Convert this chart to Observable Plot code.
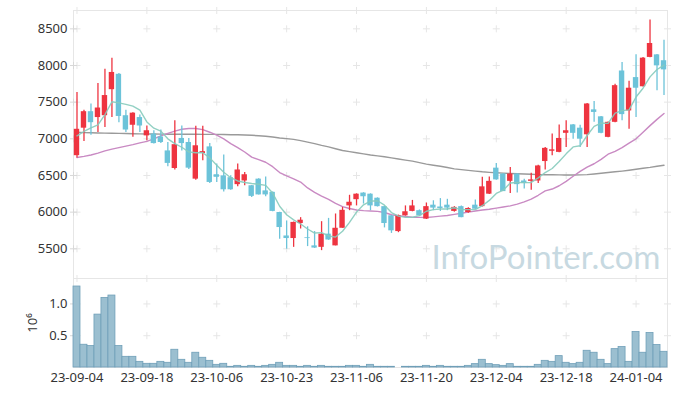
<!DOCTYPE html>
<html><head><meta charset="utf-8">
<script src="https://cdn.jsdelivr.net/npm/d3@7"></script>
<script src="https://cdn.jsdelivr.net/npm/@observablehq/plot@0.6"></script>
<style>
body{margin:0;background:#fff;}
#chart{width:677px;height:396px;position:relative;background:#fff;}
#chart svg{display:block;}
</style></head><body><div id="chart"></div>
<script>
const dates = ["23-09-04","23-09-05","23-09-06","23-09-07","23-09-08","23-09-11","23-09-12","23-09-13","23-09-14","23-09-15",
"23-09-18","23-09-19","23-09-20","23-09-21","23-09-22","23-09-25","23-09-26","23-09-27","23-10-04","23-10-05",
"23-10-06","23-10-10","23-10-11","23-10-12","23-10-13","23-10-16","23-10-17","23-10-18","23-10-19","23-10-20",
"23-10-23","23-10-24","23-10-25","23-10-26","23-10-27","23-10-30","23-10-31","23-11-01","23-11-02","23-11-03",
"23-11-06","23-11-07","23-11-08","23-11-09","23-11-10","23-11-13","23-11-14","23-11-15","23-11-16","23-11-17",
"23-11-20","23-11-21","23-11-22","23-11-23","23-11-24","23-11-27","23-11-28","23-11-29","23-11-30","23-12-01",
"23-12-04","23-12-05","23-12-06","23-12-07","23-12-08","23-12-11","23-12-12","23-12-13","23-12-14","23-12-15",
"23-12-18","23-12-19","23-12-20","23-12-21","23-12-22","23-12-26","23-12-27","23-12-28","24-01-02","24-01-03",
"24-01-04","24-01-05","24-01-08","24-01-09","24-01-10"];

const open = [6770,7145,7370,7290,7315,7670,7880,7315,7185,7290,
7040,7065,7025,6835,6595,7005,6950,6450,6800,6890,
6510,6495,6470,6375,6425,6360,6450,6290,6270,5995,
5675,5640,5845,5650,5540,5520,5700,5540,5780,6085,
6170,6260,6245,6190,6075,5950,5735,5950,6010,6020,
5905,6095,6070,6095,6010,6075,5995,6095,6075,6245,
6600,6520,6420,6520,6425,6420,6425,6690,6830,6815,
7075,7190,7145,7055,7395,7300,7020,7225,7925,7380,
7835,7710,8110,8145,8065];
const high = [7630,7390,7475,7755,7950,8100,7890,7390,7355,7325,
7175,7110,7120,6950,7245,7175,7005,7170,7170,6935,
6655,6780,6495,6655,6540,6365,6455,6480,6275,6000,
5880,5865,5925,5800,5735,5870,5915,5975,6065,6230,
6250,6265,6250,6195,6080,5955,5960,6085,6160,6030,
6125,6155,6185,6175,6075,6085,6060,6165,6475,6480,
6665,6525,6610,6525,6450,6530,6640,6880,7065,7190,
7245,7195,7185,7480,7510,7305,7230,7745,8040,7785,
8145,8110,8620,8150,8345];
const low = [6740,6965,7050,7085,7155,7290,7220,7085,7020,7085,
6975,6930,6935,6620,6575,6835,6580,6435,6700,6390,
6405,6275,6300,6345,6360,6200,6235,6210,6005,5630,
5495,5520,5770,5530,5505,5475,5615,5540,5780,6020,
6085,6110,6020,6070,5785,5710,5720,5945,6005,5945,
5900,6020,6010,6020,6000,5925,5985,6035,6070,6240,
6435,6280,6255,6260,6315,6300,6390,6575,6770,6810,
6880,6995,6880,6880,7225,7070,7015,7220,7245,7130,
7290,7705,8105,7655,7590];
const close = [7130,7370,7220,7420,7590,7905,7305,7120,7350,7175,
7110,6935,6950,6665,6920,6935,6600,6905,6825,6405,
6475,6305,6305,6575,6510,6215,6235,6235,6010,5790,
5640,5860,5890,5640,5510,5700,5620,5780,6025,6135,
6245,6210,6085,6075,5845,5745,5950,6005,6085,5950,
6075,6055,6050,6055,6065,5925,6050,6040,6345,6420,
6440,6280,6520,6375,6390,6440,6630,6870,6850,7005,
7110,7075,6995,7475,7360,7075,7225,7725,7330,7690,
7690,8100,8300,7995,7940];
const ma5 = [7040,7100,7150,7190,7330,7505,7490,7470,7445,7390,
7230,7145,7105,7000,6935,6885,6820,6810,6810,6740,
6640,6545,6470,6425,6405,6390,6380,6365,6260,6080,
5965,5895,5838,5770,5715,5720,5675,5660,5740,5860,
6000,6100,6150,6155,6095,5995,5945,5928,5930,5952,
6012,6035,6043,6042,6060,6035,6035,6035,6088,6160,
6255,6300,6398,6405,6403,6405,6468,6540,6595,6690,
6795,6890,6905,7045,7170,7215,7210,7350,7385,7395,
7570,7690,7845,7945,8005];
const ma20 = [6745,6760,6780,6805,6835,6860,6880,6900,6920,6945,
6965,7000,7040,7075,7105,7130,7140,7140,7125,7090,
7050,7000,6935,6880,6820,6750,6715,6680,6620,6540,
6495,6455,6410,6330,6270,6220,6175,6120,6075,6050,
6030,6020,6015,6010,5995,5965,5950,5940,5930,5928,
5927,5935,5945,5955,5970,5985,6000,6015,6030,6040,
6055,6070,6086,6110,6140,6177,6230,6290,6315,6360,
6420,6490,6555,6615,6660,6720,6790,6830,6880,6940,
7000,7090,7180,7265,7345];
const ma120 = [7090,7085,7082,7080,7078,7076,7074,7072,7070,7068,
7066,7065,7064,7063,7063,7063,7063,7062,7061,7060,
7060,7058,7056,7055,7052,7048,7042,7035,7025,7012,
7002,6992,6975,6955,6935,6910,6890,6865,6840,6825,
6810,6795,6780,6768,6755,6740,6725,6710,6695,6675,
6655,6640,6625,6608,6590,6580,6570,6560,6550,6543,
6537,6532,6527,6523,6520,6516,6512,6510,6509,6508,
6507,6507,6508,6512,6520,6530,6540,6550,6560,6572,
6585,6598,6610,6625,6640];
const volume = [1.274,0.358,0.337,0.832,1.095,1.132,0.337,0.168,0.168,0.089,
0.058,0.058,0.089,0.074,0.279,0.121,0.074,0.232,0.153,0.105,
0.042,0.058,0.011,0.026,0.011,0.026,0.011,0.026,0.042,0.074,
0.026,0.026,0.011,0.026,0.011,0.026,0.011,0.011,0.011,0.026,
0.026,0.011,0.042,0.011,0.011,0.011,0,0.011,0.011,0.011,
0.026,0.011,0.026,0.011,0.011,0.011,0.026,0.053,0.121,0.053,
0.037,0.026,0.053,0.011,0.011,0.011,0.042,0.105,0.089,0.179,
0.074,0.053,0.074,0.263,0.232,0.121,0.053,0.289,0.321,0.089,
0.558,0.232,0.542,0.353,0.247];

const xTickLabels = ["23-09-04","23-09-18","23-10-06","23-10-23","23-11-06","23-11-20","23-12-04","23-12-18","24-01-04"];
const priceTicks = [5500,6000,6500,7000,7500,8000,8500];
const volumeTicks = [0.5,1.0];
const volumeLabel = "10\u2076";
const watermark = "InfoPointer.com";

const rows = dates.map((d,i)=>({date:d, open:open[i], high:high[i], low:low[i], close:close[i],
  ma5:ma5[i], ma20:ma20[i], ma120:ma120[i], volume:volume[i]}));

const RED = "#ee3440", BLUE = "#6cc3d9";
const FONT = "'Noto Sans', sans-serif";
const GRID = "#e6e6e6";
const candleColor = d => d.close >= d.open ? RED : BLUE;

const priceGrid = d3.cross(xTickLabels, priceTicks).map(([x,y])=>({x,y}));
const volGrid = d3.cross(xTickLabels, volumeTicks).map(([x,y])=>({x,y}));
const cross = {symbol:"plus", r:2.4, stroke:GRID, strokeWidth:1};

const price = Plot.plot({
  width:677, height:278, marginTop:10, marginBottom:0, marginLeft:73, marginRight:10,
  style:{fontFamily:FONT, fontSize:"13px", color:"#333", background:"#fff", overflow:"visible"},
  x:{type:"band", domain:dates, padding:0, axis:null},
  y:{domain:[5095,8750], axis:null},
  color:{type:"identity"},
  marks:[
    Plot.frame({stroke:"#e6e6e6"}),
    Plot.dot(priceGrid,{x:"x", y:"y", ...cross}),
    Plot.dot(priceTicks,{y:d=>d, frameAnchor:"left", ...cross, stroke:"#d8d8d8"}),
    Plot.dot(priceTicks,{y:d=>d, frameAnchor:"right", ...cross}),
    Plot.dot(xTickLabels,{x:d=>d, frameAnchor:"top", ...cross}),
    Plot.text([watermark],{frameAnchor:"bottom-right", text:d=>d, dx:-7, dy:-10, lineAnchor:"bottom",
      fontSize:33, fill:"#c7d9e1", fontFamily:"Lato, 'Noto Sans', sans-serif", fontWeight:400}),
    Plot.axisY({ticks:priceTicks, tickSize:0, tickPadding:6, tickFormat:d=>String(d), label:null, fontSize:13}),
    Plot.lineY(rows,{x:"date", y:"ma120", stroke:"#9a9a9a", strokeWidth:1.4}),
    Plot.lineY(rows,{x:"date", y:"ma20", stroke:"#c98ac3", strokeWidth:1.4}),
    Plot.ruleX(rows,{x:"date", y1:"low", y2:"high", stroke:candleColor, strokeWidth:1.3}),
    Plot.barY(rows,{x:"date", y1:"open", y2:"close", fill:candleColor, insetLeft:0.8, insetRight:0.8}),
    Plot.lineY(rows,{x:"date", y:"ma5", stroke:"#86cbbd", strokeWidth:1.4, strokeOpacity:0.9})
  ]
});

const vol = Plot.plot({
  width:677, height:118, marginTop:0, marginBottom:29, marginLeft:73, marginRight:10,
  style:{fontFamily:FONT, fontSize:"13px", color:"#333", background:"#fff", overflow:"visible"},
  x:{type:"band", domain:dates, padding:0, axis:null},
  y:{domain:[0,1.4], axis:null},
  marks:[
    Plot.frame({stroke:"#e6e6e6"}),
    Plot.dot(volGrid,{x:"x", y:"y", ...cross}),
    Plot.dot(volumeTicks,{y:d=>d, frameAnchor:"left", ...cross, stroke:"#d8d8d8"}),
    Plot.dot(volumeTicks,{y:d=>d, frameAnchor:"right", ...cross}),
    Plot.dot(xTickLabels,{x:d=>d, frameAnchor:"top", ...cross}),
    Plot.axisY({ticks:volumeTicks, tickSize:0, tickPadding:6, tickFormat:d=>d.toFixed(1),
      label:volumeLabel, labelAnchor:"center", labelOffset:46, labelArrow:false, fontSize:13}),
    Plot.axisX({ticks:xTickLabels, tickSize:0, tickPadding:5, label:null, fontSize:13}),
    Plot.barY(rows,{x:"date", y:"volume", fill:"#9bbfd0", stroke:"#6f9fb8", strokeWidth:0.8})
  ]
});

document.getElementById("chart").append(price, vol);
</script></body></html>
